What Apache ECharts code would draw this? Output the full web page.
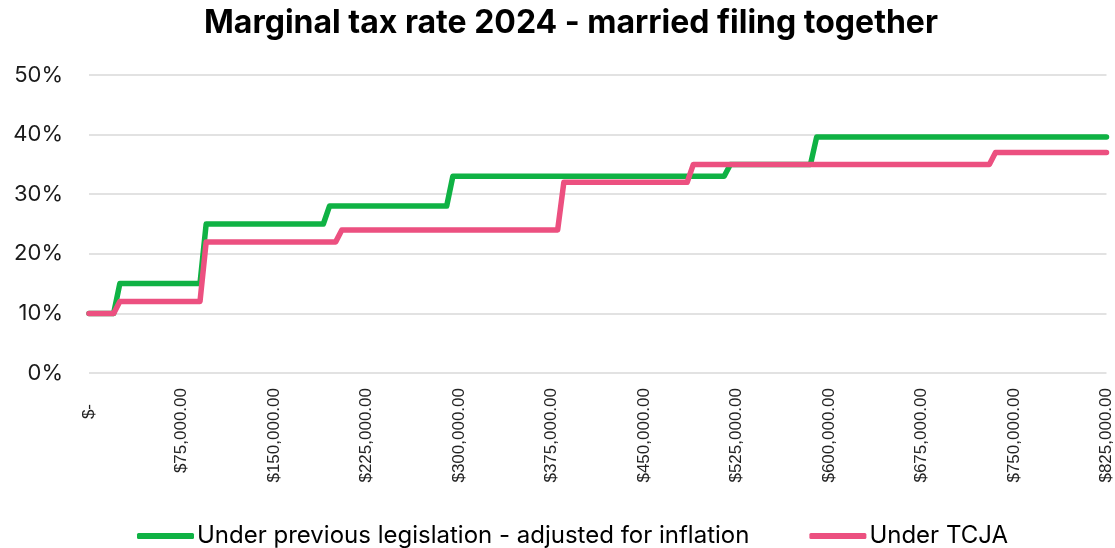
<!DOCTYPE html>
<html>
<head>
<meta charset="utf-8">
<script src="https://cdn.jsdelivr.net/npm/echarts@6/dist/echarts.min.js"></script>
<style>
  html, body { margin: 0; padding: 0; background: #ffffff; }
  #chart { width: 1115px; height: 548px; }
</style>
</head>
<body>
<div id="chart"></div>
<script>
// Marginal rate steps (income in $, rate in %), corner points of each bracket
const incomeOld = [0, 20000, 25000, 90000, 95000, 190000, 195000, 290000, 295000, 515000, 520000, 585000, 590000, 825000];
const rateOld   = [10, 10, 15, 15, 25, 25, 28, 28, 33, 33, 35, 35, 39.6, 39.6];

const incomeTcja = [0, 20000, 25000, 90000, 95000, 200000, 205000, 380000, 385000, 485000, 490000, 730000, 735000, 825000];
const rateTcja   = [10, 10, 12, 12, 22, 22, 24, 24, 32, 32, 35, 35, 37, 37];

const seriesNames = ['Under previous legislation - adjusted for inflation', 'Under TCJA'];

const xTickLabels = ['$-', '$75,000.00', '$150,000.00', '$225,000.00', '$300,000.00', '$375,000.00',
  '$450,000.00', '$525,000.00', '$600,000.00', '$675,000.00', '$750,000.00', '$825,000.00'];
const yTickLabels = ['0%', '10%', '20%', '30%', '40%', '50%'];

const pair = (xs, ys) => xs.map((x, i) => [x, ys[i]]);

const chart = echarts.init(document.getElementById('chart'), null, { renderer: 'canvas' });

const lineStyle = (color) => ({ color: color, width: 5.5, cap: 'round', join: 'round' });

chart.setOption({
  animation: false,
  backgroundColor: '#ffffff',
  title: {
    text: 'Marginal tax rate 2024 - married filing together',
    left: 566,
    top: 2,
    textAlign: 'center',
    textStyle: { fontFamily: 'Inter', fontWeight: 'bold', fontSize: 32, color: '#000000' }
  },
  legend: {
    top: 519,
    left: 132,
    itemWidth: 57,
    itemHeight: 6,
    itemGap: 60,
    icon: 'roundRect',
    data: seriesNames,
    textStyle: { fontFamily: 'Inter', fontSize: 24, color: '#000000', padding: [0, 0, 0, -2] }
  },
  grid: { left: 89, right: 5, top: 75, bottom: 175, containLabel: false },
  xAxis: {
    type: 'value',
    min: 0,
    max: 825000,
    interval: 75000,
    axisLine: { show: false },
    axisTick: { show: false },
    splitLine: { show: false },
    axisLabel: {
      rotate: 90,
      margin: 9,
      fontFamily: 'Liberation Sans',
      fontSize: 17,
      color: '#222222',
      formatter: (v) => {
        const t = xTickLabels[Math.round(v / 75000)];
        return v === 0 ? '{z|' + t + '}' : '{n|' + t + '}';
      },
      rich: {
        n: { fontFamily: 'Liberation Sans', fontSize: 17, color: '#222222', padding: [0, 6, 0, 0] },
        z: { fontFamily: 'Liberation Sans', fontSize: 17, color: '#222222', padding: [0, 22, 0, 0] }
      }
    }
  },
  yAxis: {
    type: 'value',
    min: 0,
    max: 50,
    interval: 10,
    axisLine: { show: false },
    axisTick: { show: false },
    splitLine: { lineStyle: { color: '#d9d9d9', width: 1.5 } },
    axisLabel: {
      margin: 26,
      fontFamily: 'Inter',
      fontSize: 22,
      color: '#1a1a1a',
      formatter: (v) => yTickLabels[Math.round(v / 10)]
    }
  },
  series: [
    {
      name: seriesNames[0],
      type: 'line',
      data: pair(incomeOld, rateOld),
      showSymbol: false,
      symbol: 'none',
      color: '#0fb244',
      lineStyle: lineStyle('#0fb244')
    },
    {
      name: seriesNames[1],
      type: 'line',
      data: pair(incomeTcja, rateTcja),
      showSymbol: false,
      symbol: 'none',
      color: '#ec5080',
      lineStyle: lineStyle('#ec5080')
    }
  ]
});
</script>
</body>
</html>
